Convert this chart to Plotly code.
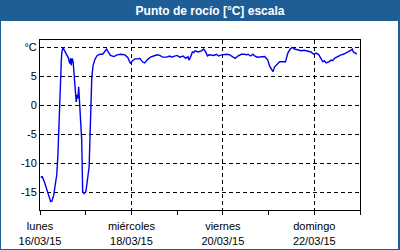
import pandas as pd
import plotly.graph_objects as go

# hours since Monday 16/03/2015 00:00
hours = [0.4, 1.2, 2.5, 3.8, 4.7, 5.6, 6.3, 7.2, 8.0, 8.8, 9.4, 9.8, 10.0, 10.5, 11.2, 11.5,
         12.1, 12.6, 13.5, 14.3, 15.0, 15.6, 16.1, 16.4, 16.9, 17.4, 17.8, 18.5, 19.0, 19.5,
         19.9, 20.3, 20.6, 21.0, 21.3, 21.9, 22.4, 23.2, 24.1, 25.0, 25.8, 26.2, 26.7, 27.2,
         27.9, 28.8, 30.0, 31.4, 32.9, 34.1, 35.0, 35.8, 37.0, 38.8, 40.5, 42.3, 44.5, 46.0,
         47.5, 48.6, 49.8, 51.5, 52.4, 53.8, 55.0, 56.2, 58.0, 59.7, 61.5, 62.9, 64.3, 66.4,
         68.1, 69.0, 70.7, 71.9, 73.4, 75.1, 76.5, 77.7, 78.2, 79.0, 80.0, 80.7, 81.4, 83.0,
         84.7, 85.9, 87.0, 87.9, 88.7, 90.0, 91.3, 92.6, 93.8, 95.2, 96.9, 98.4, 99.6, 101.3,
         102.5, 103.9, 105.7, 107.4, 108.3, 109.2, 110.6, 111.8, 112.7, 114.1, 116.2, 117.9,
         118.8, 119.6, 120.5, 121.4, 122.3, 123.1, 124.6, 125.8, 128.9, 129.6, 130.1, 131.4,
         132.4, 133.6, 135.3, 137.1, 138.8, 140.6, 142.3, 143.6, 145.0, 146.4, 147.6, 148.5,
         149.3, 150.2, 151.6, 152.9, 153.7, 154.6, 155.8, 156.8, 158.1, 159.3, 160.7, 162.1,
         163.3, 163.9, 164.5, 165.6, 166.3]
dew_point = [-12.4, -12.3, -13.4, -14.8, -15.8, -16.6, -16.5, -15.5, -13.7, -12.0, -8.6, -4.3,
             -2.0, 2.6, 7.8, 9.2, 10.0, 9.6, 9.1, 8.7, 8.1, 7.2, 8.1, 6.9, 8.1, 7.5, 5.5, 2.3,
             0.6, 1.8, 1.2, 3.2, 1.5, -0.5, -4.3, -6.0, -14.9, -15.2, -14.9, -12.9, -10.6, -6.0,
             -0.2, 4.9, 6.9, 7.9, 8.6, 8.8, 8.8, 9.4, 9.7, 9.2, 8.6, 8.4, 8.7, 8.8, 8.7, 8.3,
             7.2, 7.7, 8.0, 8.0, 8.1, 7.5, 7.3, 7.8, 8.3, 8.5, 8.7, 8.6, 8.3, 8.3, 8.5, 8.3, 8.4,
             8.6, 8.3, 8.5, 8.1, 8.4, 7.8, 8.3, 9.2, 9.1, 9.4, 9.2, 9.4, 9.7, 9.2, 8.5, 8.7, 8.7,
             8.6, 8.8, 8.5, 8.7, 8.8, 8.8, 8.7, 8.4, 8.1, 8.5, 8.8, 8.8, 8.7, 8.8, 8.5, 8.8, 8.5,
             8.3, 8.3, 8.4, 8.1, 7.8, 6.8, 6.2, 5.8, 6.6, 7.1, 7.5, 7.5, 8.7, 9.0, 9.7, 10.0, 9.7,
             9.5, 9.4, 9.5, 9.4, 9.2, 8.8, 9.0, 8.7, 8.1, 7.5, 7.7, 7.3, 7.5, 7.8, 7.7, 8.1, 8.3,
             8.5, 8.7, 8.8, 9.0, 9.2, 9.5, 9.7, 9.2, 9.0, 8.8]

start = "2015-03-16"
end = "2015-03-23"
x_tick_dates = ["2015-03-16", "2015-03-18", "2015-03-20", "2015-03-22"]
x_tick_text = ["lunes<br>16/03/15", "miércoles<br>18/03/15", "viernes<br>20/03/15", "domingo<br>22/03/15"]
y_tick_vals = [-15, -10, -5, 0, 5, 10]
y_tick_text = ["-15", "-10", "-5", "0", "5", "°C"]
title_text = "Punto de rocío [°C] escala"

times = pd.Timestamp(start) + pd.to_timedelta(hours, unit="h")

BLUE = "#1f5d96"
FONT = "Liberation Sans"

fig = go.Figure()
fig.add_trace(go.Scatter(x=times, y=dew_point, mode="lines",
                         line=dict(color="#0000f0", width=1.4), hoverinfo="skip"))

fig.update_layout(
    width=400, height=250,
    margin=dict(l=40, r=40, t=40, b=40),
    paper_bgcolor=BLUE, plot_bgcolor="white",
    showlegend=False,
    font=dict(family=FONT, size=11, color="black"),
    title=dict(text="<b>" + title_text + "</b>", x=0.525, xanchor="center",
               y=1 - 10.5 / 250, yanchor="middle",
               font=dict(family=FONT, size=12, color="white")),
    shapes=[dict(type="rect", xref="paper", yref="paper",
                 x0=-39 / 320, x1=1 + 38 / 320, y0=-39 / 170, y1=1 + 19 / 170,
                 fillcolor="white", line=dict(width=0), layer="below")],
)
fig.update_xaxes(
    type="date", range=[start, end], automargin=False,
    tickmode="array", tickvals=x_tick_dates, ticktext=x_tick_text,
    ticks="outside", ticklen=4, tickcolor="black", ticklabelstandoff=2,
    showgrid=True, gridcolor="black", griddash="4px,3px", gridwidth=1,
    showline=True, linecolor="black", linewidth=1, mirror=True,
    zeroline=False,
    minor=dict(dtick=86400000, tick0=start, ticks="outside", ticklen=4,
               tickcolor="black", showgrid=False),
)
fig.update_yaxes(
    range=[-18.05, 11.26], automargin=False,
    tickmode="array", tickvals=y_tick_vals, ticktext=y_tick_text,
    ticks="", showgrid=True, gridcolor="black", griddash="4px,3px", gridwidth=1,
    showline=True, linecolor="black", linewidth=1, mirror=True,
    zeroline=False,
)

fig.write_html("out.html")
